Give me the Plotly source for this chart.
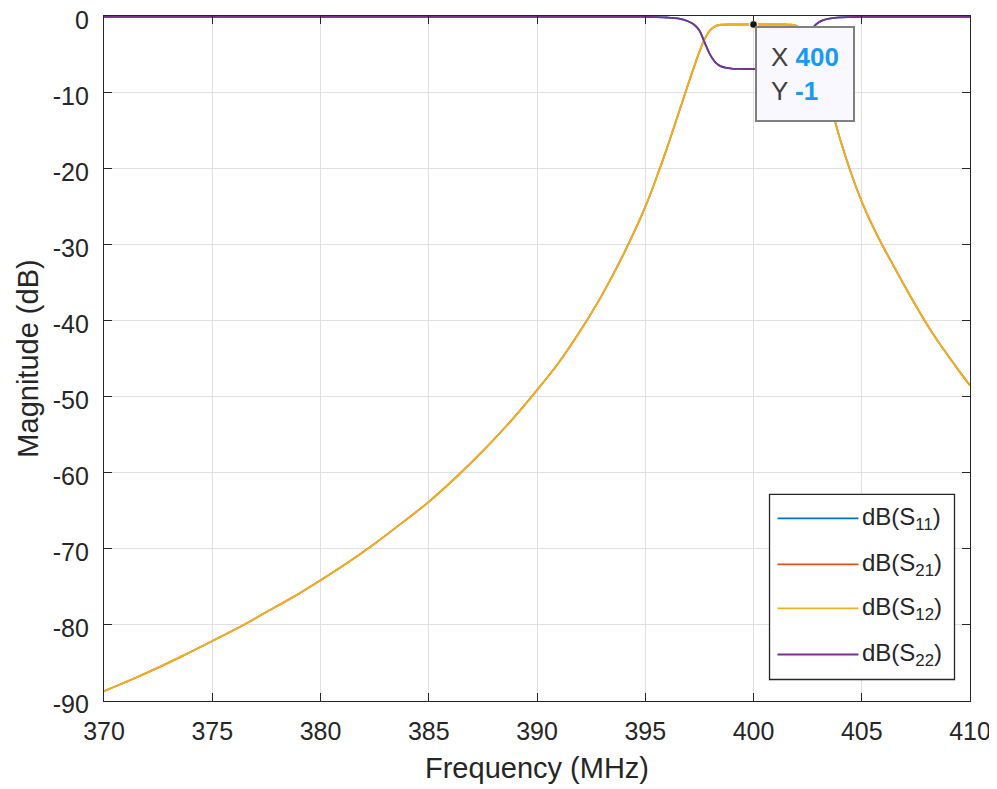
import plotly.graph_objects as go

# ---- data ----
freq_mhz = [370, 371.25, 372.5, 373.75, 375, 376.25, 377.5, 378.75, 380, 381.25, 382.5, 383.75,
            385, 386.25, 387.5, 388.75, 390, 391, 392, 393, 394,
            395, 395.5, 396, 396.5, 397, 397.25, 397.5, 397.75, 398, 398.25, 398.5,
            399, 399.5, 400, 400.5, 401, 401.5, 401.75, 402, 402.25, 402.5, 402.75,
            403, 403.25, 403.5, 404, 404.5, 405, 405.5, 406, 406.5, 407, 407.5, 408,
            408.5, 409, 409.5, 410]

s21_db = [-88.7, -87.2, -85.6, -83.9, -82.1, -80.3, -78.3, -76.3, -74.1, -71.8, -69.3, -66.6,
          -63.8, -60.6, -57.1, -53.3, -49.1, -45.5, -41.3, -36.6, -31.2,
          -25.0, -21.3, -17.3, -13.0, -8.7, -6.6, -4.6, -2.9, -1.75, -1.2, -1.03,
          -1.0, -1.0, -1.0, -1.0, -1.0, -1.0, -1.03, -1.2, -1.75, -2.9, -4.6,
          -6.6, -8.7, -11.0, -16.1, -20.5, -24.3, -27.5, -30.3, -32.9, -35.5, -38.0, -40.4,
          -42.6, -44.6, -46.6, -48.5]

s12_db = [-88.7, -87.2, -85.6, -83.9, -82.1, -80.3, -78.3, -76.3, -74.1, -71.8, -69.3, -66.6,
          -63.8, -60.6, -57.1, -53.3, -49.1, -45.5, -41.3, -36.6, -31.2,
          -25.0, -21.3, -17.3, -13.0, -8.7, -6.6, -4.6, -2.9, -1.75, -1.2, -1.03,
          -1.0, -1.0, -1.0, -1.0, -1.0, -1.0, -1.03, -1.2, -1.75, -2.9, -4.6,
          -6.6, -8.7, -11.0, -16.1, -20.5, -24.3, -27.5, -30.3, -32.9, -35.5, -38.0, -40.4,
          -42.6, -44.6, -46.6, -48.5]

s11_db = [0, 0, 0, 0, 0, 0, 0, 0, 0, 0, 0, 0,
          0, 0, 0, 0, 0, 0, 0, 0, 0,
          0, -0.03, -0.08, -0.2, -0.6, -1.0, -1.8, -3.4, -5.0, -6.0, -6.5,
          -6.8, -6.85, -6.85, -6.85, -6.85, -6.8, -6.5, -5.6, -4.0, -2.5, -1.4,
          -0.75, -0.4, -0.22, -0.07, -0.03, 0, 0, 0, 0, 0, 0, 0,
          0, 0, 0, 0]

s22_db = [0, 0, 0, 0, 0, 0, 0, 0, 0, 0, 0, 0,
          0, 0, 0, 0, 0, 0, 0, 0, 0,
          0, -0.03, -0.08, -0.2, -0.6, -1.0, -1.8, -3.4, -5.0, -6.0, -6.5,
          -6.8, -6.85, -6.85, -6.85, -6.85, -6.8, -6.5, -5.6, -4.0, -2.5, -1.4,
          -0.75, -0.4, -0.22, -0.07, -0.03, 0, 0, 0, 0, 0, 0, 0,
          0, 0, 0, 0]

series_names = ["dB(S<sub>11</sub>)", "dB(S<sub>21</sub>)", "dB(S<sub>12</sub>)", "dB(S<sub>22</sub>)"]
series_colors = ["#0072BD", "#D95319", "#EDB120", "#7E2F8E"]

x_ticks = [370, 375, 380, 385, 390, 395, 400, 405, 410]
y_ticks = [0, -10, -20, -30, -40, -50, -60, -70, -80, -90]

tip_x = [400]
tip_y = [-1]

FONT = "Liberation Sans, Arial, Helvetica, sans-serif"
AX = "#262626"

fig = go.Figure()
for name, ys, col in zip(series_names, [s11_db, s21_db, s12_db, s22_db], series_colors):
    fig.add_trace(go.Scatter(x=freq_mhz, y=ys, mode="lines", name=name,
                             line=dict(color=col, width=1.8, shape="spline", smoothing=0.8),
                             showlegend=False, hoverinfo="skip"))

# datatip marker
fig.add_trace(go.Scatter(x=tip_x, y=tip_y, mode="markers", showlegend=False, hoverinfo="skip",
                         marker=dict(color="#111111", size=8, line=dict(color="#f6f2c0", width=1.5)),
                         cliponaxis=False))

fig.add_annotation(x=tip_x[0], y=tip_y[0], xref="x", yref="y", showarrow=False,
                   xanchor="left", yanchor="top", xshift=1, yshift=-1, align="left",
                   text=("<span style='color:#404040'>X</span> <span style='color:#1a98f5'><b>%d</b></span><br>"
                         "<span style='color:#404040'>Y</span> <span style='color:#1a98f5'><b>%d</b></span>")
                        % (tip_x[0], tip_y[0]),
                   font=dict(family=FONT, size=26, color="#404040"),
                   bgcolor="#f8f8fe", bordercolor="#7f7f7f", borderwidth=2, borderpad=14)

# custom legend (box, line samples, labels)
lx0, lx1, ly0, ly1 = 0.7685, 0.9821, 0.0314, 0.3017
fig.add_shape(type="rect", xref="paper", yref="paper", x0=lx0, x1=lx1, y0=ly0, y1=ly1,
              line=dict(color=AX, width=1.3), fillcolor="white", layer="above")
entry_y = [0.2667, 0.1995, 0.1352, 0.0679]
for name, col, ey in zip(series_names, series_colors, entry_y):
    fig.add_shape(type="line", xref="paper", yref="paper", x0=0.7777, x1=0.8712, y0=ey, y1=ey,
                  line=dict(color=col, width=1.8), layer="above")
    fig.add_annotation(xref="paper", yref="paper", x=0.8735, y=ey, text=name, showarrow=False,
                       xanchor="left", yanchor="middle", font=dict(family=FONT, size=24, color=AX))

# page body has an 8px margin, so the figure is sized/offset to land on the 997x789 frame
fig.update_layout(
    width=989, height=781,
    margin=dict(l=96, r=27, t=8, b=88, autoexpand=False),
    paper_bgcolor="white", plot_bgcolor="white",
    font=dict(family=FONT, color=AX),
)
fig.update_xaxes(range=[370, 410], tickvals=x_ticks, ticktext=[str(v) for v in x_ticks],
                 showline=True, linecolor=AX, linewidth=1.3, mirror="ticks",
                 ticks="inside", ticklen=8, tickcolor=AX, tickwidth=1.3, automargin=False,
                 ticklabeloverflow="allow",
                 showgrid=True, gridcolor="#e0e0e0", gridwidth=1, zeroline=False,
                 tickfont=dict(size=25, color=AX), ticklabelstandoff=8,
                 title=dict(text="Frequency (MHz)", font=dict(size=29, color=AX), standoff=13))
fig.update_yaxes(range=[-90, 0.12], tickvals=y_ticks, ticktext=[str(v) for v in y_ticks],
                 showline=True, linecolor=AX, linewidth=1.3, mirror="ticks",
                 ticks="inside", ticklen=8, tickcolor=AX, tickwidth=1.3, automargin=False,
                 ticklabeloverflow="allow", ticklabelshift=3,
                 showgrid=True, gridcolor="#e0e0e0", gridwidth=1, zeroline=False,
                 tickfont=dict(size=25, color=AX), ticklabelstandoff=9,
                 title=dict(text="Magnitude (dB)", font=dict(size=29, color=AX), standoff=5))

fig.write_html("out.html")
